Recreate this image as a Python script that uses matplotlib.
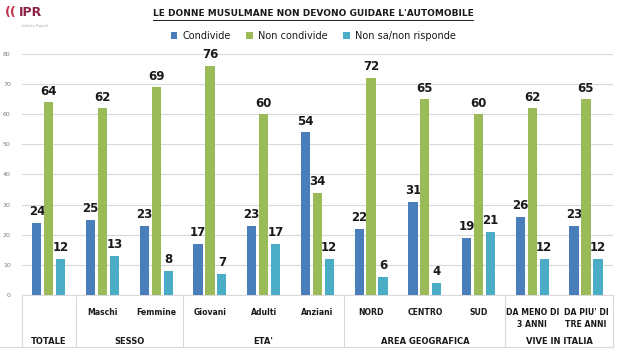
import matplotlib
matplotlib.use("Agg")
import matplotlib.pyplot as plt
import numpy as np

# data
categories = ["", "Maschi", "Femmine", "Giovani", "Adulti", "Anziani",
              "NORD", "CENTRO", "SUD", "DA MENO DI\n3 ANNI", "DA PIU' DI\nTRE ANNI"]
groups = ["TOTALE", "SESSO", "ETA'", "AREA GEOGRAFICA", "VIVE IN ITALIA"]
group_sizes = [1, 2, 3, 3, 2]
series = ["Condivide", "Non condivide", "Non sa/non risponde"]
condivide = [24, 25, 23, 17, 23, 54, 22, 31, 19, 26, 23]
non_condivide = [64, 62, 69, 76, 60, 34, 72, 65, 60, 62, 65]
non_sa = [12, 13, 8, 7, 17, 12, 6, 4, 21, 12, 12]

C_BLUE = "#4a7ebb"
C_GREEN = "#9bbb59"
C_TEAL = "#4bacc6"
C_GRID = "#d9d9d9"

fig = plt.figure(figsize=(6.26, 3.5), dpi=100)
ax = fig.add_axes([0.035, 0.157, 0.944, 0.689])

x = np.arange(len(categories))
step, w = 0.222, 0.172
for vals, off, col, lab in zip([condivide, non_condivide, non_sa],
                               [-step, 0, step],
                               [C_BLUE, C_GREEN, C_TEAL], series):
    ax.bar(x + off, vals, width=w, color=col, label=lab, zorder=3)
    for xi, v in zip(x + off, vals):
        ax.text(xi, v + 1.5, str(v), ha="center", va="bottom",
                fontsize=8.5, fontweight="bold", color="#1a1a1a")

ax.set_xlim(-0.5, len(categories) - 0.5)
ax.set_ylim(0, 80)
ax.set_yticks(range(0, 81, 10))
ax.tick_params(axis="y", labelsize=4.5, labelcolor="#7f7f7f", length=0, pad=8)
ax.set_xticks([])
ax.yaxis.grid(True, color=C_GRID, lw=0.8, zorder=0)
for s in ["top", "right", "left"]:
    ax.spines[s].set_visible(False)
ax.spines["bottom"].set_color(C_GRID)

# multi-level category axis
trans = ax.get_xaxis_transform()
for xi, lab in zip(x, categories):
    ax.text(xi, -0.055, lab, transform=trans, ha="center", va="top",
            fontsize=5.6, fontweight="bold", color="#1a1a1a", linespacing=1.35)
edges = np.cumsum([0] + group_sizes) - 0.5
for e0, e1, g in zip(edges[:-1], edges[1:], groups):
    ax.text((e0 + e1) / 2, -0.175, g, transform=trans, ha="center",
            va="top", fontsize=6, fontweight="bold", color="#1a1a1a")
for e in edges:
    ax.plot([e, e], [0, -0.215], transform=trans, color=C_GRID, lw=0.8,
            clip_on=False)
ax.plot([-0.5 - 0.4, len(categories) - 0.5], [-0.215, -0.215],
        transform=trans, color=C_GRID, lw=0.8, clip_on=False)

# title, legend, logo
t = fig.text(0.5, 0.96, "LE DONNE MUSULMANE NON DEVONO GUIDARE L'AUTOMOBILE",
             ha="center", va="center", fontsize=6.5, fontweight="bold",
             color="#1a1a1a")
fig.canvas.draw()
bb = t.get_window_extent().transformed(fig.transFigure.inverted())
fig.lines.append(plt.Line2D([bb.x0, bb.x1], [bb.y0 - 0.004, bb.y0 - 0.004],
                            transform=fig.transFigure, color="#1a1a1a", lw=0.7))
fig.legend(loc="center", bbox_to_anchor=(0.5, 0.897), ncol=3, frameon=False,
           fontsize=7, handlelength=0.7, handleheight=0.7, columnspacing=1.6,
           handletextpad=0.5, labelcolor="#1a1a1a")
fig.text(0.008, 0.963, "((", color="#c0304a", fontsize=9, fontweight="bold",
         va="center")
fig.text(0.03, 0.963, "IPR", color="#8c2145", fontsize=9, fontweight="bold",
         va="center")
fig.text(0.035, 0.925, "Istituto Piepoli", color="#b0a0a8", fontsize=2.5,
         va="center")

fig.savefig("out.png", dpi=100)
